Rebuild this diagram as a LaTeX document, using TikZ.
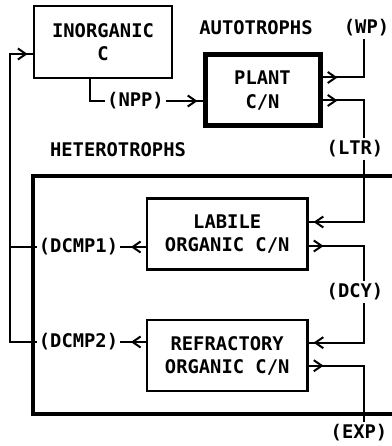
\documentclass[tikz,border=0pt]{standalone}
\usepackage{fontspec}
\newfontfamily\plotfont{DejaVu Sans Mono}
\usetikzlibrary{positioning,arrows.meta,decorations.markings}

\begin{document}
\begin{tikzpicture}[x=1pt, y=-1pt,
    every node/.style={font=\plotfont\bfseries\fontsize{18.8}{23.5}\selectfont, inner sep=2pt},
    pool/.style={draw, line width=2.2pt, align=center, inner sep=0pt,
        minimum width=160.5pt, minimum height=71pt},
    flux/.style={line width=2pt},
    outflow/.style={flux, postaction={decorate}, decoration={markings,
        mark=at position 15pt with {\arrow{Straight Barb[length=8pt,width=11pt]}}}},
    inflow/.style={flux, postaction={decorate}, decoration={markings,
        mark=at position -5pt with {\arrow{Straight Barb[length=8pt,width=11pt]}}}},
]
\useasboundingbox[fill=white] (0,0) rectangle (391,446);

% pools
\node[pool, minimum width=138.5pt, minimum height=72.5pt] (inorg) at (103,42) {INORGANIC\\C};
\node[pool, line width=5pt, minimum width=115pt] (plant) at (262.5,90.5) {PLANT\\C/N};
\node[pool] (labile) at (227.2,234) {LABILE\\ORGANIC C/N};
\node[pool, below=48.5pt of labile] (refr) {REFRACTORY\\ORGANIC C/N};

% heterotroph compartment
\draw[line width=4.5pt] (395,176) -- (33,176) -- (33,414) -- (395,414);

% labels
\node (autot) at (256,28) {AUTOTROPHS};
\node (hetero) at (118,150) {HETEROTROPHS};
\node (npp) at (135.5,101) {(NPP)};
\node (wp) at (366.5,28) {(WP)};
\node (ltr) at (355,149) {(LTR)};
\node (dcy) at (355,292) {(DCY)};
\node (exp) at (359,433) {(EXP)};
\node (dcmp1) at (78.5,247) {(DCMP1)};
\node (dcmp2) at (78.5,342) {(DCMP2)};

\coordinate (col) at (364,0);
\coordinate (retn) at (10,54);

% fluxes
\draw[flux] ([xshift=-13pt]inorg.south) |- (npp.west);
\draw[inflow] (npp.east) -- (npp.east -| plant.west);
\draw[outflow] ([yshift=13pt]plant.east) -| (wp.south -| col);
\draw[outflow] ([yshift=-10pt]plant.east) -| (ltr.north -| col);
\draw[inflow] (ltr.south -| col) |- ([yshift=12pt]labile.east);
\draw[outflow] ([yshift=-12pt]labile.east) -| (dcy.north -| col);
\draw[inflow] (dcy.south -| col) |- ([yshift=13pt]refr.east);
\draw[outflow] ([yshift=-10pt]refr.east) -| (exp.north -| col);
\draw[outflow] (dcmp1.east -| labile.west) -- (dcmp1.east);
\draw[outflow] (dcmp2.east -| refr.west) -- (dcmp2.east);
\draw[flux] (dcmp1.west) -- (dcmp1.west -| retn);
\draw[inflow] (dcmp2.west) -| (retn) -- (retn -| inorg.west);
\end{tikzpicture}
\end{document}
